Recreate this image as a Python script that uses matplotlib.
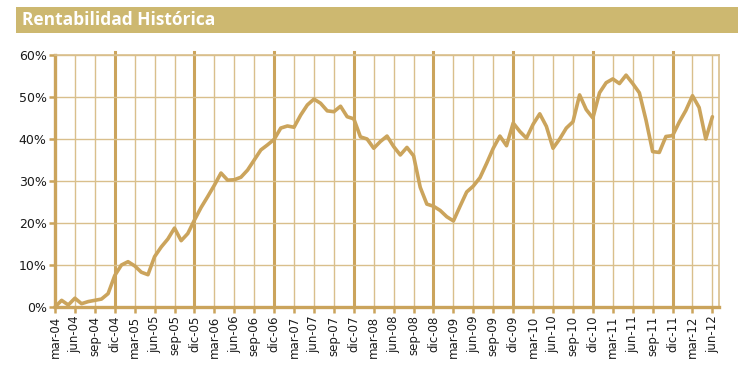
import numpy as np
import matplotlib
matplotlib.use('Agg')
import matplotlib.pyplot as plt

# 1. datos: rentabilidad mensual acumulada (%), mar-04 .. jun-12
rentabilidad = [
    0.0, 1.6, 0.5, 2.1, 0.8, 1.3, 1.6, 1.9, 3.2, 7.5,
    10.0, 10.8, 9.8, 8.3, 7.7, 12.0, 14.3, 16.2, 18.8, 15.8,
    17.5, 20.7, 23.7, 26.3, 29.0, 31.9, 30.2, 30.3, 30.9, 32.6,
    35.0, 37.4, 38.6, 39.9, 42.6, 43.1, 42.8, 45.7, 48.1, 49.5,
    48.5, 46.7, 46.5, 47.8, 45.3, 44.8, 40.5, 40.0, 37.8, 39.4,
    40.7, 38.2, 36.2, 38.0, 36.0, 28.5, 24.5, 24.0, 23.0, 21.5,
    20.5, 24.0, 27.4, 28.8, 30.8, 34.2, 37.8, 40.7, 38.4, 43.8,
    41.8, 40.2, 43.5, 46.0, 43.0, 37.8, 40.0, 42.6, 44.1, 50.5,
    47.0, 45.0, 51.0, 53.4, 54.3, 53.2, 55.2, 53.2, 51.0, 44.5,
    37.0, 36.8, 40.6, 40.8, 44.0, 46.8, 50.3, 47.5, 40.0, 45.3,
]

etiquetas_x = [
    'mar-04', 'jun-04', 'sep-04', 'dic-04', 'mar-05', 'jun-05', 'sep-05', 'dic-05',
    'mar-06', 'jun-06', 'sep-06', 'dic-06', 'mar-07', 'jun-07', 'sep-07', 'dic-07',
    'mar-08', 'jun-08', 'sep-08', 'dic-08', 'mar-09', 'jun-09', 'sep-09', 'dic-09',
    'mar-10', 'jun-10', 'sep-10', 'dic-10', 'mar-11', 'jun-11', 'sep-11', 'dic-11',
    'mar-12', 'jun-12',
]
etiquetas_y = ['0%', '10%', '20%', '30%', '40%', '50%', '60%']
valores_y = [0, 10, 20, 30, 40, 50, 60]

titulo = 'Rentabilidad Histórica'

oro = '#CBA45C'
oro_claro = '#D9BF8C'
barra = '#CDB870'

# 2. figura
fig = plt.figure(figsize=(7.39, 3.74), dpi=100)
ax = fig.add_axes([0.0744, 0.179, 0.8986, 0.674])

# 3. barra de titulo
fig.patches.append(plt.Rectangle((0.0217, 0.912), 0.977, 0.069, transform=fig.transFigure,
                                 facecolor=barra, edgecolor='none'))
fig.text(0.030, 0.946, titulo, color='white', fontsize=12.5, fontweight='bold',
         family='Open Sans', va='center', ha='left')

# 4. rejilla
pos_x = np.arange(len(etiquetas_x)) * 3
for k, x in enumerate(pos_x):
    if etiquetas_x[k].startswith('dic'):
        ax.axvline(x, color=oro, lw=2.2, zorder=1, clip_on=False, ymax=1.01)
    elif k > 0:
        ax.axvline(x, color=oro_claro, lw=1.0, zorder=1)
for y in valores_y[1:]:
    ax.axhline(y, color=oro_claro, lw=1.0, zorder=1)

# 5. linea
meses = np.arange(len(rentabilidad))
ax.plot(meses, rentabilidad, color=oro, lw=2.6, solid_joinstyle='round',
        solid_capstyle='round', zorder=3, clip_on=False)

ax.set_xlim(0, 100)
ax.set_ylim(0, 60)
ax.set_xticks(pos_x)
ax.set_xticklabels(etiquetas_x, rotation=90, fontsize=8.5, color='#1a1a1a')
ax.set_yticks(valores_y)
ax.set_yticklabels(etiquetas_y, fontsize=9, color='#1a1a1a')
ax.tick_params(axis='both', color=oro, length=4, width=1.8, pad=2)

for lado in ['left', 'bottom']:
    ax.spines[lado].set_color(oro)
    ax.spines[lado].set_linewidth(2.4)
for lado in ['top', 'right']:
    ax.spines[lado].set_color(oro_claro)
    ax.spines[lado].set_linewidth(1.2)

fig.savefig('out.png', dpi=100)
